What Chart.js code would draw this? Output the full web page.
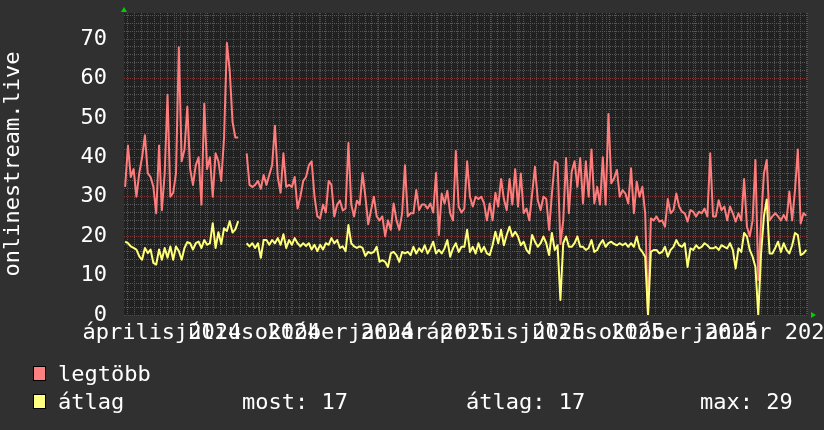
<!DOCTYPE html>
<html><head><meta charset="utf-8">
<script src="https://cdn.jsdelivr.net/npm/chart.js@4"></script>
<style>html,body{margin:0;padding:0;background:#303030;}canvas{display:block}</style>
</head><body>
<canvas id="c" width="824" height="430"></canvas>
<script>
// ---- data (days relative to 2024-04-01) ----
const seriesStartDay = -24;   // 2024-03-08
const seriesStepDays = 3;
const maxValues = [32.5,43,35,37,30,36,40,45.6,36,35,32.5,25.8,43,26.6,36,55.8,30,31,36,67.9,
39,42,52.8,37,33,38,40,28,53.6,37,40,30,41,39,34,45,69,62,49,45,
45,null,null,41,33,32.5,33,34,32,35.5,33,35.5,38,48,35,31,41,32.5,33,32.5,
35,27,30,34,35,38,39,30,25,24.5,28,26,34,33,25,28,29,26.5,27,43.6,
28,25,29,28,36,30,23,26.6,30,25,24,25,20,24,21.6,28.3,24,21.6,25.8,38,
25,25.8,25.8,31.7,26.6,28,28,27,28.3,26,36,20.3,30.8,28.3,31.5,25.8,24,41.6,27.5,26,
27,39,30,27.5,30,29.4,30,28.3,24,28.3,24,31,27.5,34.5,29.4,26.6,34.5,28,37,27.5,
35.9,25.8,27,24,30.8,37.6,29.1,26.6,30,29.4,21.6,30.8,39,38.5,18,24,39.8,25.8,36.4,39,
32.5,39.8,28.3,39,30,42,28.3,32.5,28,40,28,51,33.4,34.7,36.8,30,31.7,30.8,28.3,37.2,
25.8,33.8,30,32.5,25.8,0,24.5,24,25,23.7,24,22.4,29.4,25.8,26.6,30.8,27.5,26.2,25.8,23.7,
26.6,26.2,25,26.2,25.8,27,25,41,25,25,29.1,26.6,27.5,24,27.5,25.8,23.7,25.8,24,34.5,
22.4,20,24,39.3,8.9,24,35.9,39.3,24,25,25.8,25,24,25.4,24,31.3,24,31.7,42,23.2,
25.8,25.2];
const avgValues = [18.6,18.2,17.4,17,16.6,14.9,14,17,15.7,16.6,13.2,12.8,16.6,14,17,14.5,17.4,14,17.4,16.2,
14,17,18.5,18.2,16.6,18.2,18.6,17,19,17.8,18.2,23.3,17,21,18,22,21.3,23.8,20.9,21.7,
23.8,null,null,18.2,17.4,18.2,17,18.2,14.5,19,19,17.8,19,18.2,19.5,17.8,20.5,17,19,17.8,
19.5,18.2,17.4,18.2,17.5,18.2,16.6,17.8,16.2,17.8,16.6,18.2,17.8,19.5,18.2,19,17,17.4,16.2,22.8,
18.2,17.4,17,17.4,17,15,16,15.6,16,17.3,13.5,13.9,13.5,12.2,15.6,16,15.2,13.5,16,15.6,
16,15.2,17.3,15.6,16.9,16,17.7,15.6,16.9,18.6,15.6,16.5,15.6,16.9,19,14.8,16.9,18.2,16,17.3,
17.3,21.6,16,17.3,15.6,18.2,16,17.3,15.6,15.2,17.7,21.1,18.2,21.6,17.7,20.3,22.4,19.9,21.1,19.9,
17.7,18.6,16.5,15.6,20.3,18.6,17.3,18.2,19.9,18.2,15.2,20.8,16.5,17.7,3.8,18.2,19.9,17.3,17.3,18.2,
19.9,17.3,17.3,16.5,17,19,16,16.5,18,19,17.3,18.2,18.6,18,17.7,18.2,17.7,18.2,17.3,18.2,
17.3,19.9,16.9,16,14.8,0,16,16.5,16.5,15.6,16,17.3,14.8,16.5,17.3,19,17.7,17.3,18.2,12.2,
16.9,16.5,17.7,16.9,17.3,18.2,17.7,16.9,16.9,17.3,16.5,17.7,17.3,16.9,18.2,16.5,11.8,16.9,16,20.8,
19.9,16.5,14.8,12.2,0,15.6,25,29.3,15.6,15.6,17,18.6,16,18.2,16.5,15.6,17.7,20.8,20.3,15.2,
15.6,16.5];
const xLabels = ['április 2024','július 2024','október 2024','január 2025','április 2025','július 2025','október 2025','január 2026'];
const xLabelMonths = [[2024,3],[2024,6],[2024,9],[2025,0],[2025,3],[2025,6],[2025,9],[2026,0]];
const yTickValues = [0,10,20,30,40,50,60,70];
const yAxisTitle = 'onlinestream.live';
const legendNames = ['legtöbb','átlag'];
const legendStats = [['most',17],['átlag',17],['max',29]];

// ---- helpers ----
const DAY = 86400000, ORIGIN = Date.UTC(2024,3,1);   // a Monday
const dayOf = (y,m,d) => (Date.UTC(y,m,d) - ORIGIN) / DAY;
const X_MIN = -25.2, X_MAX = 700.8;
const toPoints = vals => vals.map((v,i) => ({x: seriesStartDay + i*seriesStepDays, y: v}));

const FONT = 'DejaVu Sans Mono';
const TXT = '#ffffff';
const MAJOR = '#7a3535';
const MINOR = '#575757';

function buildXTicks(scale){
  const t = [];
  const majors = new Set();
  for (let y = 2024; y <= 2026; y++) for (let m = 0; m < 12; m++) {
    const d = dayOf(y,m,1);
    if (d >= X_MIN && d <= X_MAX) { t.push({value: d, kind: 'major'}); majors.add(d); }
  }
  for (let d = -21; d <= X_MAX; d += 7) if (!majors.has(d)) t.push({value: d, kind: 'minor'});
  xLabelMonths.forEach((ym,i) => {
    t.push({value: dayOf(ym[0],ym[1],1) + 15, kind: 'label', lbl: xLabels[i]});
  });
  t.sort((a,b) => a.value - b.value);
  scale.ticks = t;
}

const bgPlugin = {
  id: 'bg',
  beforeDraw(chart){
    const {ctx, chartArea: a} = chart;
    ctx.save();
    ctx.fillStyle = '#303030';
    ctx.fillRect(0,0,chart.width,chart.height);
    ctx.fillStyle = '#212121';
    ctx.fillRect(a.left, a.top, a.right - a.left, a.bottom - a.top);
    ctx.restore();
  }
};

const decoPlugin = {
  id: 'deco',
  afterDraw(chart){
    const {ctx, chartArea: a} = chart;
    ctx.save();
    // arrows
    ctx.fillStyle = '#00d000';
    ctx.beginPath(); ctx.moveTo(a.left-3, a.top-1); ctx.lineTo(a.left+3, a.top-1); ctx.lineTo(a.left, a.top-6); ctx.closePath(); ctx.fill();
    ctx.beginPath(); ctx.moveTo(a.right+3, a.bottom-3); ctx.lineTo(a.right+3, a.bottom+3); ctx.lineTo(a.right+8, a.bottom); ctx.closePath(); ctx.fill();
    // legend
    const cols = ['#ff8080','#ffff80'];
    ctx.font = '22px "' + FONT + '"';
    ctx.textBaseline = 'alphabetic';
    const rows = [381, 409];
    legendNames.forEach((n,i) => {
      ctx.fillStyle = cols[i];
      ctx.fillRect(33, rows[i]-15, 13, 15);
      ctx.strokeStyle = '#000'; ctx.lineWidth = 1;
      ctx.strokeRect(33.5, rows[i]-14.5, 12, 14);
      ctx.fillStyle = TXT;
      ctx.fillText(n, 58, rows[i]);
    });
    const sx = [242, 466, 700];
    legendStats.forEach((s,i) => ctx.fillText(s[0] + ': ' + s[1], sx[i], rows[1]));
    ctx.restore();
  }
};

Chart.defaults.font.family = FONT;

new Chart(document.getElementById('c'), {
  type: 'line',
  data: {
    datasets: [
      {label: legendNames[1], data: toPoints(avgValues), borderColor: '#ffff78', borderWidth: 2, order: 0},
      {label: legendNames[0], data: toPoints(maxValues), borderColor: '#ff7c7c', borderWidth: 2, order: 1}
    ]
  },
  options: {
    responsive: false, animation: false, devicePixelRatio: 1,
    layout: {padding: {top: 13, right: 16, left: 0, bottom: 0}},
    elements: {point: {radius: 0}, line: {tension: 0, borderJoinStyle: 'round'}},
    spanGaps: false,
    plugins: {legend: {display: false}, tooltip: {enabled: false}},
    scales: {
      x: {
        type: 'linear', min: X_MIN, max: X_MAX,
        afterBuildTicks: buildXTicks,
        afterFit(s){ s.height = 115; s.paddingLeft = 0; s.paddingRight = 0; },
        grid: {
          drawTicks: false,
          color: c => c.tick && c.tick.kind === 'major' ? MAJOR : (c.tick && c.tick.kind === 'minor' ? MINOR : 'rgba(0,0,0,0)')
        },
        border: {display: false, dash: [1,1]},
        ticks: {
          autoSkip: false, maxRotation: 0, minRotation: 0, padding: 5,
          color: TXT, font: {size: 22, family: FONT},
          callback: (v,i,ticks) => ticks[i].lbl || ''
        }
      },
      y: {
        min: 0, max: 76.6,
        afterBuildTicks(s){ const t=[]; for(let v=0; v<=76; v+=2) t.push({value:v}); s.ticks=t; },
        afterFit(s){ s.width = 124; s.paddingTop = 0; s.paddingBottom = 0; },
        grid: {
          drawTicks: false,
          color: c => c.tick && c.tick.value % 10 === 0 ? MAJOR : MINOR
        },
        border: {display: false, dash: [1,1]},
        title: {display: true, text: yAxisTitle, color: TXT, font: {size: 22, family: FONT, lineHeight: 1.2}, padding: {top: 0, bottom: 0}},
        ticks: {
          autoSkip: false, padding: 17, color: TXT, font: {size: 22, family: FONT},
          callback: v => yTickValues.includes(v) ? String(v) : ''
        }
      }
    }
  },
  plugins: [bgPlugin, decoPlugin]
});
</script>
</body></html>
